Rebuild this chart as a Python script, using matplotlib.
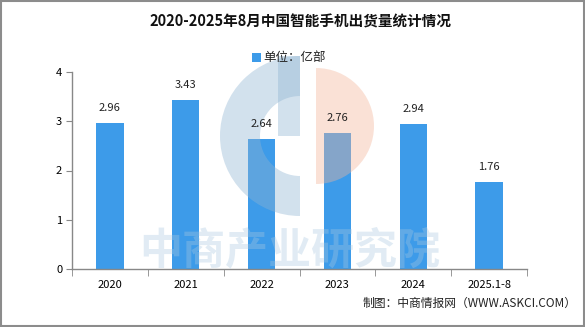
import matplotlib
matplotlib.use("Agg")
import matplotlib.pyplot as plt
from matplotlib.patches import Wedge, Rectangle
from matplotlib.transforms import Affine2D
import numpy as np

plt.rcParams['font.family'] = ['Noto Sans CJK SC', 'DejaVu Sans']

categories = ["2020", "2021", "2022", "2023", "2024", "2025.1-8"]
values = [2.96, 3.43, 2.64, 2.76, 2.94, 1.76]
yticks = [0, 1, 2, 3, 4]
title = "2020-2025年8月中国智能手机出货量统计情况"
legend_label = "单位：亿部"
source = "制图：中商情报网（WWW.ASKCI.COM）"
watermark = "中商产业研究院"

W, H = 585, 327
fig = plt.figure(figsize=(W / 100, H / 100), dpi=100)
fig.patch.set_facecolor("white")
px = Affine2D().scale(1 / W, 1 / H) + fig.transFigure  # pixel coords, origin bottom-left

# outer border
fig.add_artist(Rectangle((0.002, 0.003), 0.996, 0.994, transform=fig.transFigure,
                         fill=False, edgecolor="#8c8c8c", linewidth=1.5))

ax = fig.add_axes([72 / W, 1 - 269 / H, (527 - 72) / W, (269 - 72) / H])
ax.patch.set_alpha(0)
x = np.arange(len(categories))
bars = ax.bar(x, values, width=0.36, color="#3d9be9", zorder=2)
for xi, v in zip(x, values):
    ax.text(xi, v + 0.2, f"{v:.2f}", ha="center", va="bottom", fontsize=8,
            color="#222222", zorder=5)

ax.set_xlim(-0.5, len(categories) - 0.5)
ax.set_ylim(0, 4)
ax.set_yticks(yticks)
ax.set_yticklabels([str(t) for t in yticks], fontsize=8)
ax.set_xticks(x)
ax.set_xticklabels(categories, fontsize=8)
ax.tick_params(axis="x", length=0, pad=8)
ax.set_xticks(np.arange(-0.5, len(categories)), minor=True)
ax.tick_params(axis="x", which="minor", length=5, color="#888888")
ax.tick_params(axis="y", length=4, color="#888888", pad=3)
for s in ["top", "right"]:
    ax.spines[s].set_visible(False)
for s in ["left", "bottom"]:
    ax.spines[s].set_color("#888888")
    ax.spines[s].set_linewidth(1)

# watermark (translucent, over bars, under labels)
cx, cy = 300, H - 136
wm = [
    Wedge((cx, cy), 80, 90, 270, width=40, facecolor="#8fb4d2", edgecolor="none", alpha=0.4),
    Rectangle((278, H - 136), 22, 80, facecolor="#8fb4d2", edgecolor="none", alpha=0.4),
    Wedge((316, H - 126), 58, -90, 90, facecolor="#f3b59a", edgecolor="none", alpha=0.4),
]
for p in wm:
    p.set_transform(px)
    p.set_clip_on(False)
    p.set_zorder(3)
    ax.add_patch(p)
ax.text(290, H - 250, watermark, fontsize=31, color="#a9c8e0", ha="center", va="center",
        fontweight="bold", alpha=0.35, transform=px, zorder=3, clip_on=False)

fig.text(300 / W, 1 - 22 / H, title, ha="center", va="center", fontsize=10.5,
         fontweight="bold", color="#111111")
# legend
fig.add_artist(Rectangle((252 / W, 1 - 62 / H), 9 / W, 9 / H, transform=fig.transFigure,
                         facecolor="#3d9be9", edgecolor="none"))
fig.text(263 / W, 1 - 58 / H, legend_label, ha="left", va="center", fontsize=9, color="#222222")
fig.text(577 / W, 1 - 303 / H, source, ha="right", va="center", fontsize=8.5, color="#222222")

fig.savefig("out.png", dpi=100)
